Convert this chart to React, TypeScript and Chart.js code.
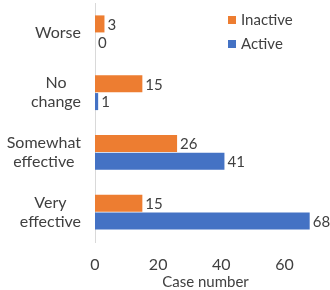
import React, { useEffect, useRef } from "react";
import { Chart, registerables } from "chart.js";

Chart.register(...registerables);

const categories: string[][] = [["Worse"], ["No", "change"], ["Somewhat", "effective"], ["Very", "effective"]];
const inactiveValues = [3, 15, 26, 15];
const activeValues = [0, 1, 41, 68];
const seriesNames = ["Inactive", "Active"];
const xTickValues = [0, 20, 40, 60];
const axisTitle = "Case number";

const ORANGE = "#ED7D31";
const BLUE = "#4472C4";
const TEXT = "#404040";
const FONT = "Lato, 'Open Sans', sans-serif";

const valueLabels = {
  id: "valueLabels",
  afterDatasetsDraw(chart: any) {
    const ctx = chart.ctx;
    ctx.save();
    ctx.font = `15px ${FONT}`;
    ctx.fillStyle = TEXT;
    ctx.textAlign = "left";
    ctx.textBaseline = "middle";
    chart.data.datasets.forEach((ds: any, di: number) => {
      const meta = chart.getDatasetMeta(di);
      meta.data.forEach((el: any, i: number) => {
        ctx.fillText(String(ds.data[i]), el.x + 3, el.y + 1);
      });
    });
    ctx.restore();
  },
};

const categoryLabels = {
  id: "categoryLabels",
  afterDraw(chart: any) {
    const ctx = chart.ctx;
    const yScale = chart.scales.y;
    ctx.save();
    ctx.font = `16px ${FONT}`;
    ctx.fillStyle = TEXT;
    ctx.textAlign = "center";
    ctx.textBaseline = "middle";
    const rightEdge = yScale.right - 14;
    const lh = 19;
    categories.forEach((lines, i) => {
      const y = yScale.getPixelForValue(i);
      const w = Math.max(...lines.map((l) => ctx.measureText(l).width));
      const cx = rightEdge - w / 2;
      const y0 = y - ((lines.length - 1) * lh) / 2;
      lines.forEach((l, j) => ctx.fillText(l, cx, y0 + j * lh));
    });
    ctx.restore();
  },
};

const customLegend = {
  id: "customLegend",
  afterDraw(chart: any) {
    const ctx = chart.ctx;
    const ca = chart.chartArea;
    ctx.save();
    ctx.font = `15px ${FONT}`;
    ctx.textBaseline = "middle";
    ctx.textAlign = "left";
    const colors = [ORANGE, BLUE];
    seriesNames.forEach((name, i) => {
      const x = ca.right - 88;
      const y = ca.top + 17 + i * 24;
      ctx.fillStyle = colors[i];
      ctx.fillRect(x, y - 4, 8, 8);
      ctx.fillStyle = TEXT;
      ctx.fillText(name, x + 13, y);
    });
    ctx.restore();
  },
};

export default function App() {
  const ref = useRef<HTMLCanvasElement>(null);
  useEffect(() => {
    if (!ref.current) return;
    const chart = new Chart(ref.current, {
      type: "bar",
      data: {
        labels: categories.map((c) => c.join(" ")),
        datasets: [
          { label: seriesNames[0], data: inactiveValues, backgroundColor: ORANGE, categoryPercentage: 0.6, barPercentage: 0.95 },
          { label: seriesNames[1], data: activeValues, backgroundColor: BLUE, categoryPercentage: 0.6, barPercentage: 0.95 },
        ],
      },
      options: {
        indexAxis: "y",
        animation: false,
        responsive: true,
        maintainAspectRatio: false,
        layout: { padding: { top: 3, right: 14, left: 0, bottom: 0 } },
        plugins: { legend: { display: false }, tooltip: { enabled: false } },
        scales: {
          x: {
            min: 0,
            max: 70,
            grid: { display: false },
            border: { display: false },
            afterBuildTicks: (axis: any) => {
              axis.ticks = xTickValues.map((v) => ({ value: v }));
            },
            ticks: { color: TEXT, font: { family: FONT, size: 16 }, padding: 5 },
            title: { display: true, text: axisTitle, color: TEXT, font: { family: FONT, size: 15, lineHeight: 1 }, padding: { top: 0, bottom: 0 } },
            afterFit: (axis: any) => {
              axis.height = 48;
              axis.paddingLeft = 0;
              axis.paddingRight = 0;
            },
          },
          y: {
            grid: { display: false },
            border: { display: true, color: "#D9D9D9", width: 1 },
            ticks: { display: false },
            afterFit: (axis: any) => {
              axis.width = 95;
              axis.paddingTop = 0;
              axis.paddingBottom = 0;
            },
          },
        },
      },
      plugins: [valueLabels, categoryLabels, customLegend],
    });
    return () => chart.destroy();
  }, []);
  return (
    <div style={{ position: "fixed", left: 0, top: 0, width: 330, height: 290, background: "#fff" }}>
      <canvas ref={ref} />
    </div>
  );
}
